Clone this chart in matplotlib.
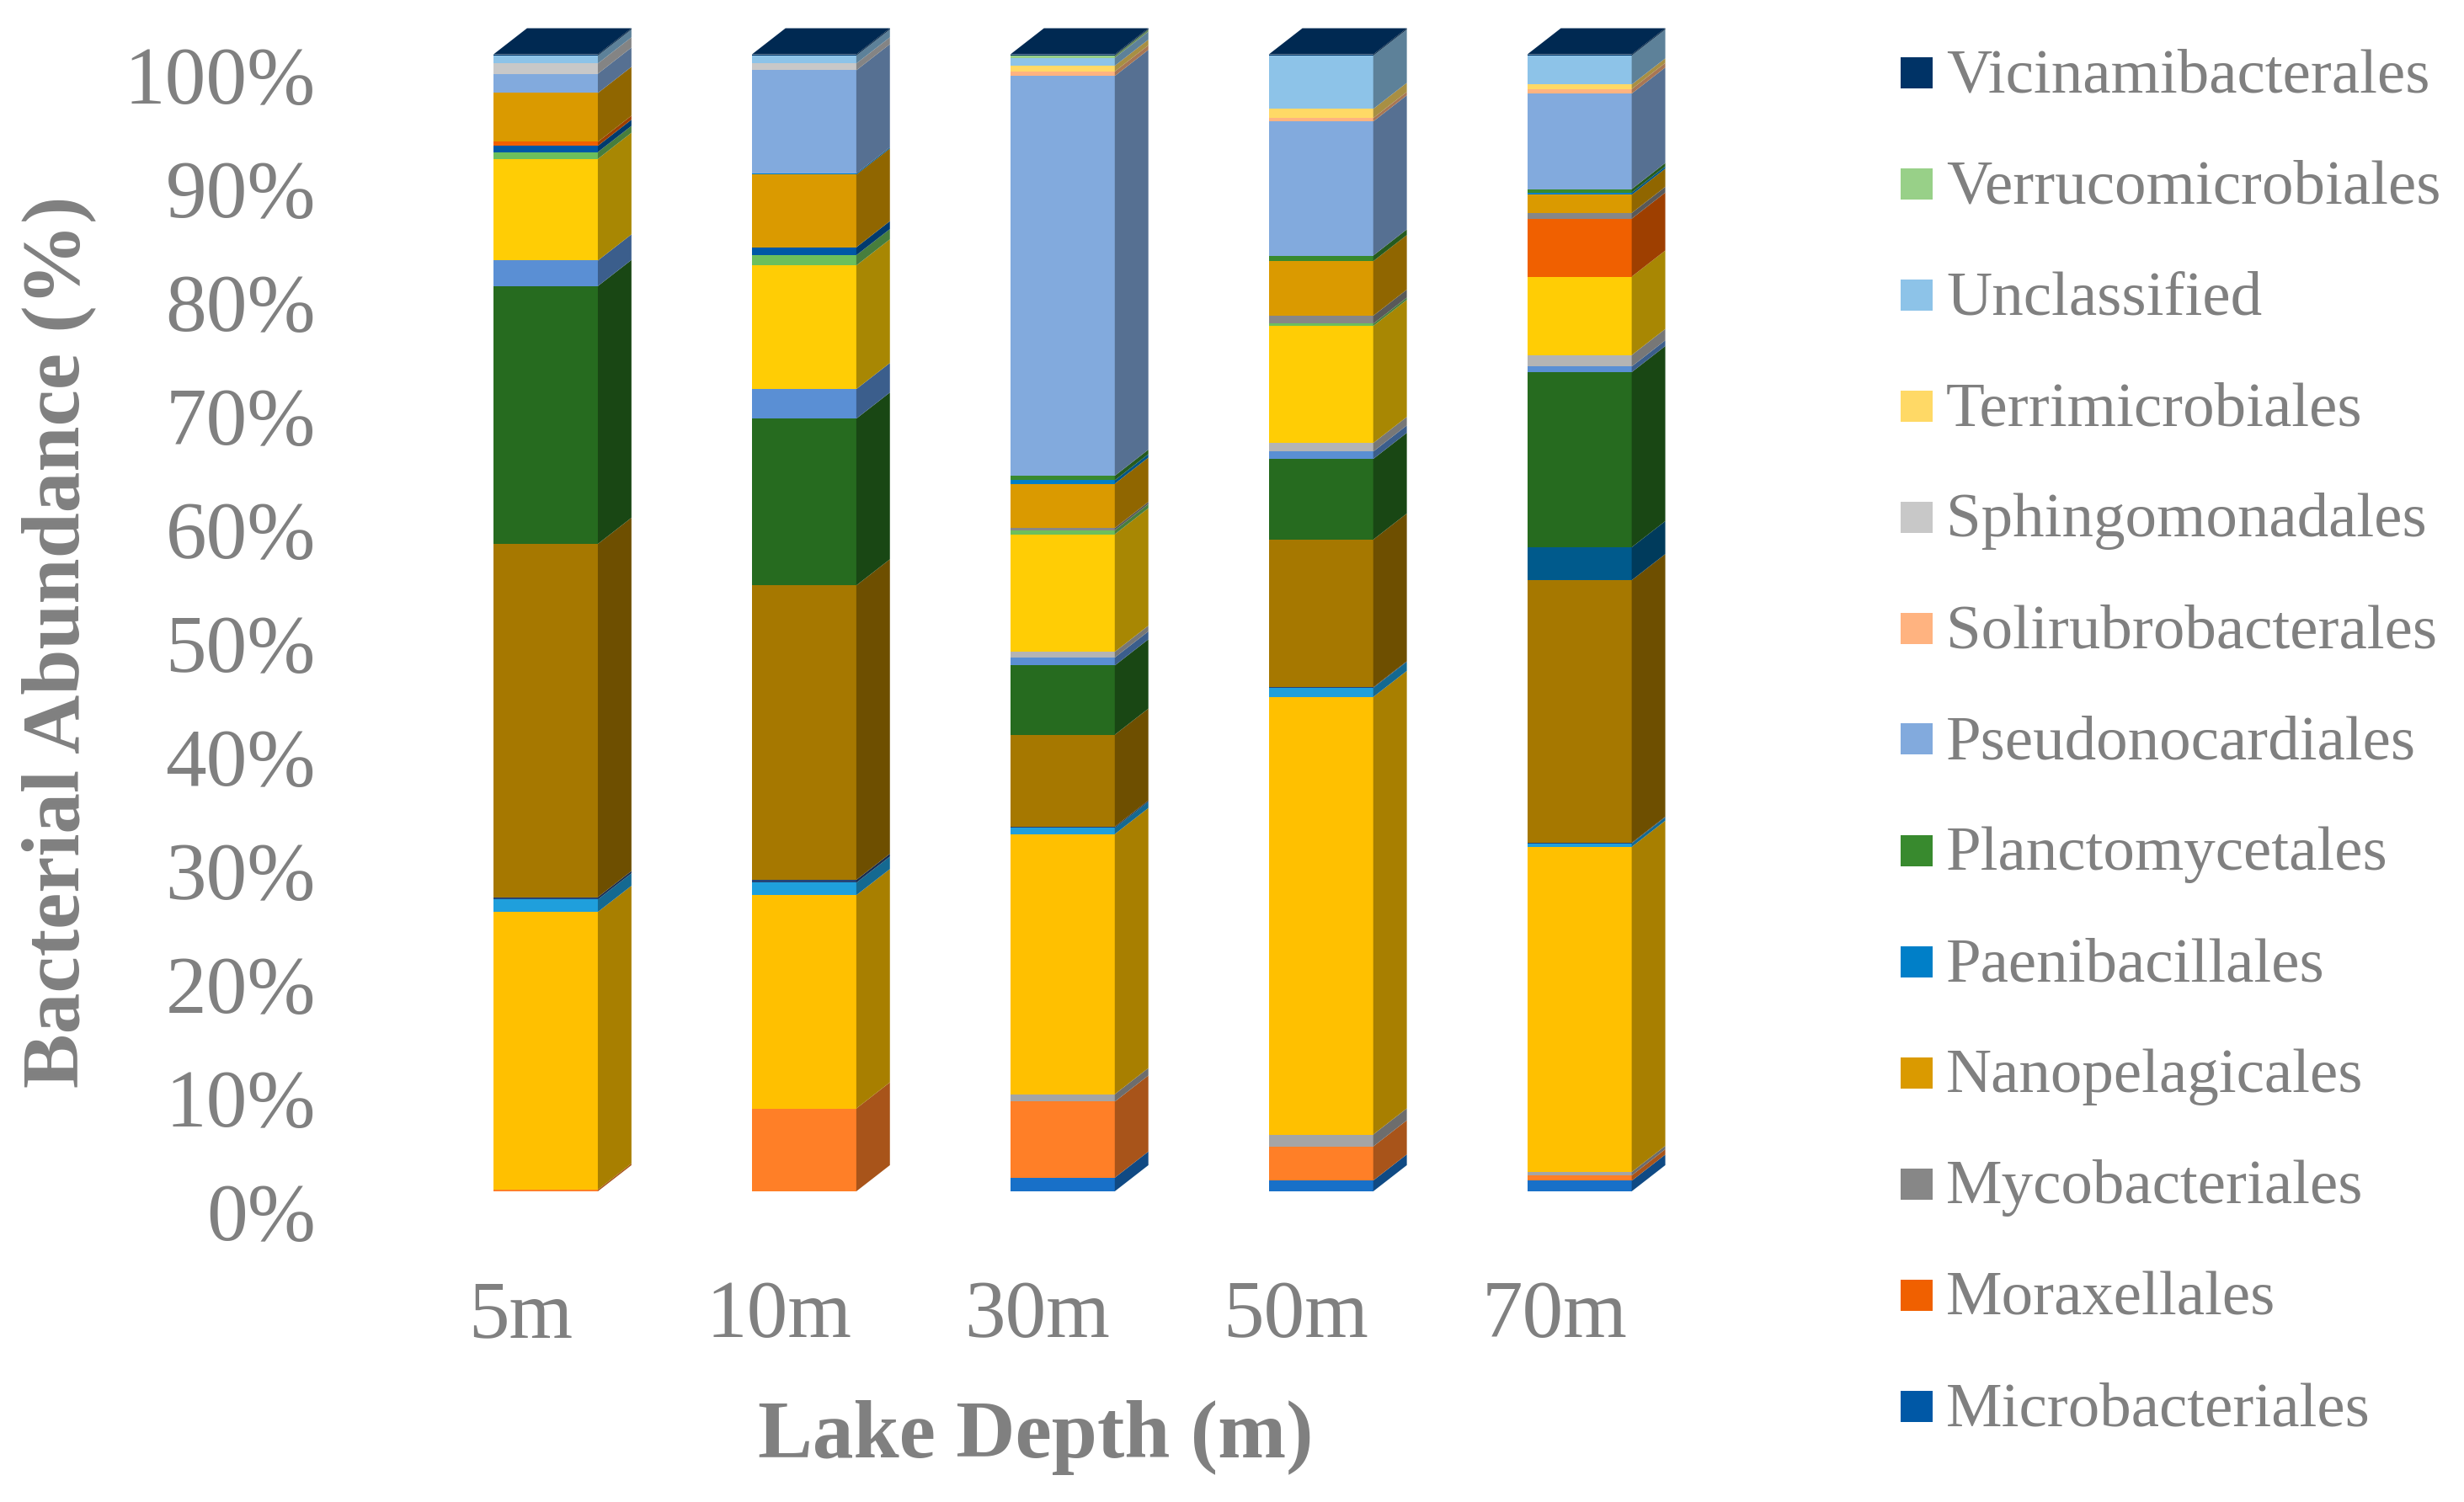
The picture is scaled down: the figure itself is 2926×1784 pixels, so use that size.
import numpy as np
import matplotlib
matplotlib.use("Agg")
import matplotlib.pyplot as plt
import matplotlib.transforms as mtransforms
from matplotlib.patches import Polygon, Rectangle
from matplotlib.colors import to_rgb

plt.rcParams['font.family'] = ['Liberation Serif', 'DejaVu Serif']
GRIS = '#808080'

# Profundidades del lago (eje X)
profundidades = ["5m", "10m", "30m", "50m", "70m"]

# Ordenes que quedan fuera de la leyenda (la leyenda original esta recortada),
# de abajo hacia arriba en la pila, % por profundidad
otros_valores = np.array([
    [0.00, 0.00, 1.20, 0.95, 0.93],
    [0.15, 7.30, 6.70, 3.00, 0.47],
    [0.00, 0.00, 0.65, 1.05, 0.30],
    [24.45, 18.80, 22.90, 38.50, 28.60],
    [1.10, 1.10, 0.55, 0.80, 0.30],
    [0.20, 0.25, 0.10, 0.05, 0.05],
    [31.10, 25.95, 8.10, 13.00, 23.10],
    [0.00, 0.00, 0.00, 0.00, 2.90],
    [22.70, 14.70, 6.10, 7.10, 15.40],
    [2.25, 2.60, 0.70, 0.65, 0.50],
    [0.00, 0.00, 0.50, 0.75, 1.00],
    [8.95, 10.90, 10.35, 10.30, 6.90],
    [0.60, 0.90, 0.35, 0.20, 0.00],
])
otros_colores = ['#1870C8', '#FF7F27', '#A5A5A5', '#FFC000', '#1F9FDC', '#264478',
                 '#A67800', '#005A8C', '#266B1F', '#5A8FD4', '#B4B4B4', '#FFCD05',
                 '#6CBF5C']

# Ordenes con leyenda (orden alfabetico = orden de apilado)
ordenes = ["Microbacteriales", "Moraxellales", "Mycobacteriales", "Nanopelagicales",
           "Paenibacillales", "Planctomycetales", "Pseudonocardiales",
           "Solirubrobacterales", "Sphingomonadales", "Terrimicrobiales",
           "Unclassified", "Verrucomicrobiales", "Vicinamibacterales"]
ordenes_valores = np.array([
    [0.55, 0.70, 0.00, 0.00, 0.00],
    [0.35, 0.00, 0.00, 0.00, 5.10],
    [0.00, 0.00, 0.20, 0.70, 0.50],
    [4.30, 6.40, 3.90, 4.80, 1.60],
    [0.00, 0.10, 0.30, 0.00, 0.20],
    [0.00, 0.00, 0.40, 0.50, 0.30],
    [1.70, 9.10, 35.20, 11.80, 8.40],
    [0.00, 0.00, 0.40, 0.30, 0.40],
    [0.90, 0.60, 0.00, 0.00, 0.00],
    [0.00, 0.00, 0.50, 0.80, 0.40],
    [0.70, 0.70, 0.70, 4.70, 2.55],
    [0.00, 0.00, 0.20, 0.00, 0.00],
    [0.10, 0.10, 0.10, 0.10, 0.10],
])
ordenes_colores = ['#0058A6', '#F06000', '#878787', '#DA9A00', '#007FC8', '#388A2E',
                   '#82AADD', '#FFB380', '#C8C8C8', '#FFD966', '#8DC3E8', '#98D088',
                   '#003366']

valores = np.vstack([otros_valores, ordenes_valores])
colores = otros_colores + ordenes_colores
# columnas apiladas al 100%
valores = valores / valores.sum(axis=0) * 100


def oscuro(c, f):
    r, g, b = to_rgb(c)
    return (r * f, g * f, b * f)


fig = plt.figure(figsize=(29.26, 17.84), dpi=100)
ax = fig.add_axes([463.8 / 2926, 1 - 1415 / 1784, 1596 / 2926, 1350.4 / 1784])
ax.set_xlim(-0.6, 4.6)
ax.set_ylim(0, 100)

ancho = 0.404   # cara frontal
dx = 0.13       # profundidad en x
dy = 2.3        # profundidad en y (%)

for i in range(len(profundidades)):
    base = 0.0
    ultimo = None
    for k in range(valores.shape[0]):
        v = valores[k, i]
        if v <= 0:
            continue
        x0, x1 = i - ancho / 2, i + ancho / 2
        ax.bar(i, v, bottom=base, width=ancho, color=colores[k], linewidth=0, zorder=2)
        lado = Polygon([(x1, base), (x1 + dx, base + dy), (x1 + dx, base + v + dy), (x1, base + v)],
                       closed=True, facecolor=oscuro(colores[k], 0.66), edgecolor='none',
                       zorder=2, clip_on=False)
        ax.add_patch(lado)
        base += v
        ultimo = k
    x0, x1 = i - ancho / 2, i + ancho / 2
    tapa = Polygon([(x0, base), (x0 + dx, base + dy), (x1 + dx, base + dy), (x1, base)],
                   closed=True, facecolor=oscuro(colores[ultimo], 0.8), edgecolor='none',
                   zorder=3, clip_on=False)
    ax.add_patch(tapa)

for s in ax.spines.values():
    s.set_visible(False)

ax.set_yticks(range(0, 101, 10))
ax.set_yticklabels([f"{t}%" for t in range(0, 101, 10)])
ax.set_xticks(range(len(profundidades)))
ax.set_xticklabels(profundidades)
ax.tick_params(axis='both', length=0, labelsize=70, labelcolor=GRIS)
ax.tick_params(axis='y', pad=64)
ax.tick_params(axis='x', pad=76)

off_y = mtransforms.ScaledTranslation(0, -24.5 / 100, fig.dpi_scale_trans)
for lab in ax.get_yticklabels():
    lab.set_transform(lab.get_transform() + off_y)
off_x = mtransforms.ScaledTranslation(-30 / 100, 0, fig.dpi_scale_trans)
for lab in ax.get_xticklabels():
    lab.set_transform(lab.get_transform() + off_x)

fig.text(70 / 2926, 1 - 762 / 1784, "Bacterial Abundance (%)", rotation=90,
         ha='center', va='center', fontsize=70, fontweight='bold', color=GRIS)
fig.text(1230 / 2926, 1 - 1731 / 1784, "Lake Depth (m)", ha='center', va='baseline',
         fontsize=70, fontweight='bold', color=GRIS)

# Leyenda: de arriba (ultimo orden) hacia abajo
for j, k in enumerate(range(len(ordenes) - 1, -1, -1)):
    yc = 86 + 132 * j
    fig.patches.append(Rectangle((2257 / 2926, 1 - (yc + 18.5) / 1784), 38 / 2926, 37 / 1784,
                                 transform=fig.transFigure, facecolor=ordenes_colores[k],
                                 edgecolor='none'))
    fig.text(2311 / 2926, 1 - (yc + 23) / 1784, ordenes[k], ha='left', va='baseline',
             fontsize=54, color=GRIS)

fig.savefig("out.png", dpi=100)
